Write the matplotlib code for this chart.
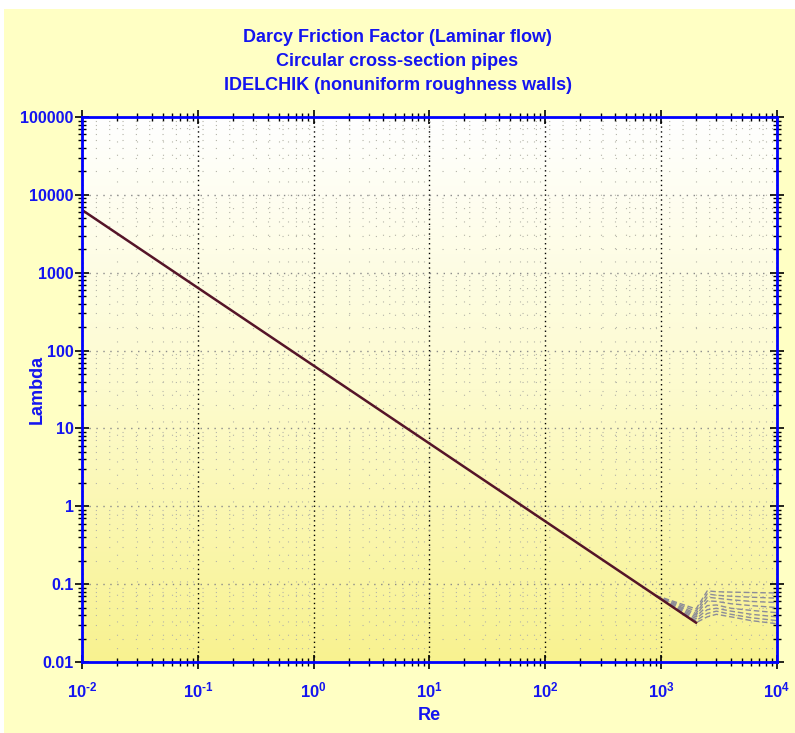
import matplotlib
matplotlib.use("Agg")
import matplotlib.pyplot as plt
import numpy as np
from matplotlib.colors import LinearSegmentedColormap
from matplotlib.patches import Rectangle
from matplotlib.ticker import LogLocator, FixedLocator, NullFormatter

BLUE = "#1414f0"
PANEL = "#ffffc4"
LINE = "#551428"
ROUGH = "#8c8c98"

# laminar line, lambda = 64/Re read at its end points
re_laminar = [0.01, 2000]
lam_laminar = [6400, 0.032]

# nonuniform roughness curves, read off the transition region
re_rough = [900, 1000, 2000, 2500, 3000, 4000, 6000, 10000]
lam_rough = [
    [0.071, 0.068, 0.048, 0.082, 0.080, 0.079, 0.078, 0.077],
    [0.071, 0.067, 0.045, 0.075, 0.072, 0.070, 0.068, 0.066],
    [0.071, 0.066, 0.042, 0.068, 0.066, 0.063, 0.060, 0.058],
    [0.071, 0.065, 0.040, 0.061, 0.060, 0.056, 0.053, 0.050],
    [0.071, 0.064, 0.038, 0.053, 0.054, 0.049, 0.046, 0.043],
    [0.071, 0.064, 0.036, 0.047, 0.049, 0.045, 0.041, 0.038],
    [0.071, 0.064, 0.034, 0.042, 0.045, 0.041, 0.037, 0.034],
    [0.071, 0.064, 0.032, 0.038, 0.041, 0.038, 0.034, 0.031],
]

x_ticks = [1e-2, 1e-1, 1e0, 1e1, 1e2, 1e3, 1e4]
x_labels = [r"10$^{\text{-2}}$", r"10$^{\text{-1}}$", "10$^{0}$", "10$^{1}$",
            "10$^{2}$", "10$^{3}$", "10$^{4}$"]
y_ticks = [0.01, 0.1, 1, 10, 100, 1000, 10000, 100000]
y_labels = ["0.01", "0.1", "1", "10", "100", "1000", "10000", "100000"]

plt.rcParams.update({
    "font.family": ["Liberation Sans", "DejaVu Sans"],
    "mathtext.fontset": "custom",
    "mathtext.rm": "Liberation Sans:bold",
    "mathtext.it": "Liberation Sans:bold",
    "mathtext.bf": "Liberation Sans:bold",
})

fig = plt.figure(figsize=(7.95, 7.33), dpi=100, facecolor="white")
fig.patches.append(Rectangle((4 / 795, 0), 1, 1 - 9 / 733, transform=fig.transFigure,
                             facecolor=PANEL, edgecolor="none", zorder=-10))
ax = fig.add_axes([82 / 795, 1 - 662 / 733, 695 / 795, 545 / 733])

# white to yellow gradient behind the plot
grad = LinearSegmentedColormap.from_list("bg", ["#f8f290", "#fdfbce", "#ffffff"])
ax.imshow(np.linspace(0, 1, 256).reshape(-1, 1), aspect="auto", cmap=grad, origin="lower",
          extent=[0, 1, 0, 1], transform=ax.transAxes, zorder=0)

for values in lam_rough:
    ax.plot(re_rough, values, color=ROUGH, linewidth=1.0, linestyle=(0, (4, 2)), zorder=3)
ax.plot(re_laminar, lam_laminar, color=LINE, linewidth=1.8, zorder=4)

ax.set_xscale("log")
ax.set_yscale("log")
ax.set_xlim(1e-2, 1e4)
ax.set_ylim(0.01, 100000)

ax.xaxis.set_major_locator(FixedLocator(x_ticks))
ax.set_xticklabels(x_labels)
ax.yaxis.set_major_locator(FixedLocator(y_ticks))
ax.set_yticklabels(y_labels)
ax.xaxis.set_minor_locator(LogLocator(base=10, subs=np.arange(2, 10), numticks=20))
ax.yaxis.set_minor_locator(LogLocator(base=10, subs=np.arange(2, 10), numticks=20))
ax.xaxis.set_minor_formatter(NullFormatter())
ax.yaxis.set_minor_formatter(NullFormatter())

ax.tick_params(which="both", direction="inout", color="black", top=True, right=True,
               labelcolor=BLUE)
ax.tick_params(which="major", length=10, width=1.2)
ax.tick_params(which="minor", length=6, width=1.0)
ax.tick_params(axis="x", labelsize=12, pad=8)
ax.tick_params(axis="y", labelsize=11.5, pad=1)
for label in ax.get_xticklabels() + ax.get_yticklabels():
    label.set_fontweight("bold")

ax.grid(which="major", axis="x", color="black", linestyle=(0, (1, 2.5)), linewidth=1.0)
ax.grid(which="major", axis="y", color="#8a8a8a", linestyle=(0, (1, 4)), linewidth=1.0)
ax.grid(which="minor", color="#b4b4a8", linestyle=(0, (1, 11)), linewidth=0.8)
ax.set_axisbelow(False)
for line in ax.get_xgridlines() + ax.get_ygridlines():
    line.set_zorder(1)

for side in ["left", "right", "top", "bottom"]:
    ax.spines[side].set_color("#0000ff")
    ax.spines[side].set_linewidth(2)
    ax.spines[side].set_zorder(5)

ax.set_xlabel("Re", color=BLUE, fontsize=13, fontweight="bold")
ax.set_ylabel("Lambda", color=BLUE, fontsize=13, fontweight="bold")
ax.xaxis.set_label_coords(0.5, (662 - 716) / 545)
ax.yaxis.set_label_coords((37 - 82) / 695, 0.5)
ax.xaxis.label.set_va("center")
ax.yaxis.label.set_va("center")

fig.text(0.5, 1 - 37 / 733, "Darcy Friction Factor (Laminar flow)", ha="center", va="center",
         color=BLUE, fontsize=13, fontweight="bold")
fig.text(0.5, 1 - 61 / 733, "Circular cross-section pipes", ha="center", va="center",
         color=BLUE, fontsize=13, fontweight="bold")
fig.text(0.5, 1 - 85 / 733, "IDELCHIK (nonuniform roughness walls)", ha="center", va="center",
         color=BLUE, fontsize=13, fontweight="bold")

fig.savefig("out.png", dpi=100, facecolor=fig.get_facecolor())
